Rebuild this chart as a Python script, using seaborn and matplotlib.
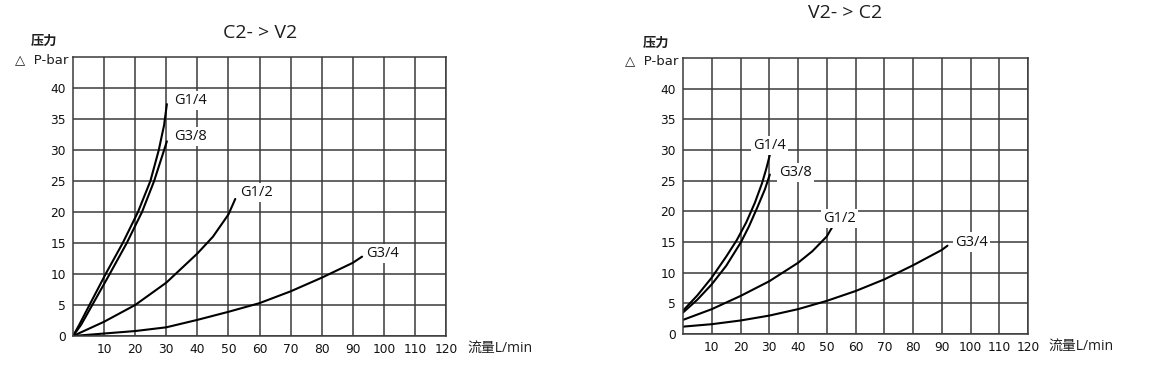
import pandas as pd
import numpy as np
import matplotlib
matplotlib.use('Agg')
import matplotlib.pyplot as plt
import seaborn as sns

# ── data ────────────────────────────────────────────────────
# C2 -> V2
l_g14_x = [0, 2, 5.3, 10.5, 16, 20.9, 24.9, 27.6, 29.3, 30.2]
l_g14_y = [0, 1.8, 5, 10, 15, 20, 25, 30, 34, 37.4]
l_g38_x = [0, 2.6, 6.2, 11.8, 17.3, 22.2, 26.1, 28.8, 30.2]
l_g38_y = [0, 1.8, 5, 10, 15, 20, 25, 29.2, 31.4]
l_g12_x = [0, 10, 20, 30, 40, 45, 50, 52.2]
l_g12_y = [0, 2.3, 5.0, 8.6, 13.3, 16.0, 19.6, 22.1]
l_g34_x = [0, 10, 20, 30, 40, 50, 60, 70, 80, 90, 93]
l_g34_y = [0, 0.4, 0.8, 1.4, 2.6, 3.9, 5.3, 7.2, 9.4, 11.8, 12.8]

# V2 -> C2
r_g14_x = [0, 5, 10, 15, 18.7, 22, 25, 27.5, 29, 30.2]
r_g14_y = [3.8, 6.3, 9.2, 12.6, 15.3, 18.2, 21.4, 24.6, 27, 29.2]
r_g38_x = [0, 5, 10, 15, 20.2, 23, 26, 28.5, 30.2]
r_g38_y = [3.5, 5.6, 8.1, 11.1, 15, 17.6, 20.8, 23.6, 26]
r_g12_x = [0, 10, 20, 30, 40, 45, 50, 52]
r_g12_y = [2.3, 4.05, 6.2, 8.6, 11.6, 13.5, 15.9, 17.5]
r_g34_x = [0, 10, 20, 30, 40, 50, 60, 70, 80, 90, 92]
r_g34_y = [1.2, 1.6, 2.2, 3.0, 4.05, 5.4, 7.0, 8.9, 11.2, 13.7, 14.4]

sizes = ['G1/4', 'G3/8', 'G1/2', 'G3/4']
x_ticks = list(range(10, 130, 10))
y_ticks = list(range(0, 45, 5))


def make_df(xs, ys):
    rows = []
    for name, x, y in zip(sizes, xs, ys):
        for a, b in zip(x, y):
            rows.append({'flow': a, 'dp': b, 'size': name})
    return pd.DataFrame(rows)


df_left = make_df([l_g14_x, l_g38_x, l_g12_x, l_g34_x],
                  [l_g14_y, l_g38_y, l_g12_y, l_g34_y])
df_right = make_df([r_g14_x, r_g38_x, r_g12_x, r_g34_x],
                   [r_g14_y, r_g38_y, r_g12_y, r_g34_y])

sns.set_style('white')
plt.rcParams['font.family'] = ['Open Sans', 'Noto Sans CJK SC', 'DejaVu Sans']

fig = plt.figure(figsize=(11.64, 3.70), dpi=100)
ax1 = fig.add_axes([73 / 1164, 1 - 336 / 370, 373 / 1164, 279 / 370])
ax2 = fig.add_axes([683 / 1164, 1 - 334 / 370, 345 / 1164, 276 / 370])

grid_c = '#3a3a3a'
txt_c = '#1e1e1e'


def style_axis(ax):
    ax.set_xlim(0, 120)
    ax.set_ylim(0, 45)
    ax.set_xticks(x_ticks)
    ax.set_yticks(y_ticks)
    ax.tick_params(length=0, pad=5, colors='#111111')
    for t in ax.get_xticklabels() + ax.get_yticklabels():
        t.set_family('DejaVu Sans')
        t.set_fontsize(8.8)
    ax.grid(True, color=grid_c, lw=1.1)
    ax.set_axisbelow(True)
    for s in ax.spines.values():
        s.set_color(grid_c)
        s.set_linewidth(1.1)
    ax.set_xlabel('')
    ax.set_ylabel('')
    ax.text(1.058, -0.045, '流量L/min', transform=ax.transAxes,
            fontsize=10, ha='left', va='center', color=txt_c)
    ax.text(-0.078, 1.055, '压力', transform=ax.transAxes,
            fontsize=9.5, ha='center', va='center', color=txt_c,
            fontweight='bold')
    ax.text(-0.013, 0.99, '△  P-bar', transform=ax.transAxes,
            fontsize=9.5, ha='right', va='center', color=txt_c,
            family=['DejaVu Sans'])


for ax, d in [(ax1, df_left), (ax2, df_right)]:
    sns.lineplot(data=d, x='flow', y='dp', units='size', estimator=None,
                 sort=False, color='black', lw=1.5, ax=ax, legend=False)
    style_axis(ax)

box = dict(facecolor='white', edgecolor='none', pad=1.5)
lab_kw = dict(fontsize=10.5, ha='left', va='center', color='#111111')

ax1.text(32.5, 38.0, 'G1/4', bbox=box, **lab_kw)
ax1.text(32.5, 32.2, 'G3/8', bbox=box, **lab_kw)
ax1.text(53.7, 23.2, 'G1/2', bbox=box, **lab_kw)
ax1.text(94.2, 13.3, 'G3/4', bbox=box, **lab_kw)

ax2.text(24.5, 30.7, 'G1/4', bbox=box, **lab_kw)
ax2.text(33.3, 26.4, 'G3/8', bbox=box, **lab_kw)
ax2.text(48.8, 18.8, 'G1/2', bbox=box, **lab_kw)
ax2.text(94.6, 15.0, 'G3/4', bbox=box, **lab_kw)

fig.text(260 / 1164, 1 - 33 / 370, 'C2- > V2', fontsize=14,
         ha='center', va='center', color=txt_c)
fig.text(845 / 1164, 1 - 13 / 370, 'V2- > C2', fontsize=14,
         ha='center', va='center', color=txt_c)

fig.savefig('out.png', dpi=100)
